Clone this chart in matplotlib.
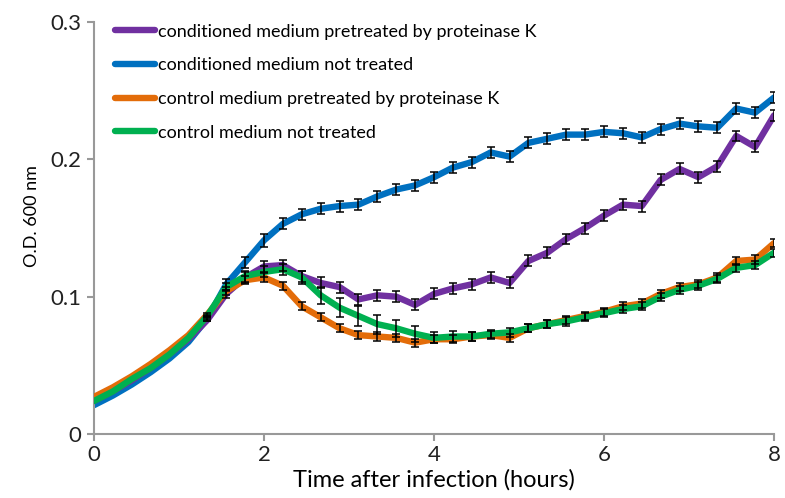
import numpy as np
import matplotlib
matplotlib.use("Agg")
import matplotlib.pyplot as plt

plt.rcParams['font.family'] = ['Lato', 'DejaVu Sans']

# readings every 1/4.5 h (13.3 min) from 0 to 8 h
time_h = np.linspace(0, 8, 37)

cond_pk = [0.024, 0.031, 0.039, 0.048, 0.058, 0.069, 0.083, 0.102, 0.114, 0.122,
           0.123, 0.115, 0.110, 0.107, 0.098, 0.101, 0.100, 0.094, 0.102, 0.106,
           0.109, 0.114, 0.110, 0.126, 0.132, 0.142, 0.150, 0.159, 0.167, 0.166,
           0.185, 0.193, 0.187, 0.195, 0.217, 0.209, 0.232]
cond_nt = [0.021, 0.028, 0.036, 0.045, 0.055, 0.067, 0.084, 0.109, 0.125, 0.141,
           0.153, 0.160, 0.164, 0.166, 0.167, 0.173, 0.178, 0.181, 0.187, 0.194,
           0.198, 0.205, 0.202, 0.212, 0.215, 0.218, 0.218, 0.220, 0.219, 0.216,
           0.222, 0.226, 0.224, 0.223, 0.237, 0.234, 0.245]
ctrl_pk = [0.027, 0.034, 0.042, 0.051, 0.061, 0.072, 0.087, 0.104, 0.112, 0.114,
           0.108, 0.093, 0.085, 0.077, 0.072, 0.071, 0.070, 0.0665, 0.069, 0.069,
           0.071, 0.072, 0.070, 0.077, 0.080, 0.083, 0.086, 0.089, 0.093, 0.095,
           0.102, 0.107, 0.109, 0.114, 0.126, 0.127, 0.139]
ctrl_nt = [0.024, 0.031, 0.040, 0.048, 0.058, 0.070, 0.086, 0.107, 0.115, 0.118,
           0.120, 0.114, 0.101, 0.092, 0.086, 0.080, 0.077, 0.073, 0.070, 0.071,
           0.071, 0.073, 0.074, 0.077, 0.080, 0.082, 0.085, 0.088, 0.091, 0.093,
           0.100, 0.105, 0.108, 0.113, 0.121, 0.123, 0.132]

# early errors are too small to show under the lines
err_cond_pk = [0, 0, 0, 0, 0, 0, 0.001, 0.003, 0.004, 0.004,
               0.004, 0.004, 0.004, 0.004, 0.004, 0.004, 0.004, 0.004, 0.004, 0.004,
               0.004, 0.004, 0.004, 0.004, 0.004, 0.004, 0.004, 0.004, 0.004, 0.004,
               0.004, 0.004, 0.004, 0.004, 0.004, 0.004, 0.004]
err_cond_nt = [0, 0, 0, 0, 0, 0, 0.0015, 0.004, 0.004, 0.005,
               0.004, 0.004, 0.004, 0.004, 0.004, 0.004, 0.004, 0.004, 0.004, 0.004,
               0.004, 0.004, 0.004, 0.004, 0.004, 0.004, 0.004, 0.004, 0.004, 0.004,
               0.004, 0.004, 0.004, 0.004, 0.004, 0.004, 0.004]
err_ctrl_pk = [0, 0, 0, 0, 0, 0, 0.001, 0.003, 0.003, 0.003,
               0.003, 0.003, 0.003, 0.003, 0.003, 0.003, 0.003, 0.003, 0.003, 0.003,
               0.003, 0.003, 0.003, 0.003, 0.003, 0.003, 0.003, 0.003, 0.003, 0.003,
               0.003, 0.003, 0.003, 0.003, 0.003, 0.003, 0.003]
err_ctrl_nt = [0, 0, 0, 0, 0, 0, 0.001, 0.003, 0.004, 0.004,
               0.004, 0.005, 0.006, 0.007, 0.007, 0.007, 0.006, 0.006, 0.004, 0.004,
               0.003, 0.003, 0.003, 0.003, 0.003, 0.003, 0.003, 0.003, 0.003, 0.003,
               0.003, 0.003, 0.003, 0.003, 0.003, 0.003, 0.003]

labels = ["conditioned medium pretreated by proteinase K",
          "conditioned medium not treated",
          "control medium pretreated by proteinase K",
          "control medium not treated"]
colors = ["#7030A0", "#0070C0", "#E36C09", "#00B050"]
series = [cond_pk, cond_nt, ctrl_pk, ctrl_nt]
errors = [err_cond_pk, err_cond_nt, err_ctrl_pk, err_ctrl_nt]
zorders = [3, 2, 4, 5]

fig = plt.figure(figsize=(7.85, 4.98), dpi=100)
ax = fig.add_axes([0.1197, 0.1285, 0.8663, 0.8273])

for y, e, c, lab, z in zip(series, errors, colors, labels, zorders):
    ax.plot(time_h, y, color=c, lw=4.6, label=lab, zorder=z,
            solid_capstyle='round', solid_joinstyle='round')
    e = np.array(e)
    m = e > 0
    ax.errorbar(time_h[m], np.array(y)[m], yerr=e[m], fmt='none', ecolor='black',
                elinewidth=1.1, capsize=3, capthick=1.1, zorder=6)

ax.set_xlim(0, 8)
ax.set_ylim(0, 0.3)
ax.set_xticks([0, 2, 4, 6, 8])
ax.set_yticks([0, 0.1, 0.2, 0.3])
ax.set_yticklabels(["0", "0.1", "0.2", "0.3"])
ax.set_xlabel("Time after infection (hours)", fontsize=17, labelpad=3)
ax.set_ylabel("O.D. 600 nm", fontsize=13)
ax.yaxis.set_label_coords(-0.08, 0.53)

for s in ["top", "right"]:
    ax.spines[s].set_visible(False)
for s in ["left", "bottom"]:
    ax.spines[s].set_color("#999999")
    ax.spines[s].set_linewidth(1.5)
ax.tick_params(axis='both', colors="#999999", width=1.5, length=5,
               labelsize=16, labelcolor="#222222")
ax.tick_params(axis='x', pad=3)
ax.tick_params(axis='y', pad=4)

leg = ax.legend(loc='upper left', bbox_to_anchor=(0.012, 1.027), frameon=False,
                fontsize=13, handlelength=2.25, handletextpad=0.15,
                labelspacing=0.98, borderaxespad=0.3)
for line in leg.get_lines():
    line.set_linewidth(4.6)

fig.savefig("out.png", dpi=100)
